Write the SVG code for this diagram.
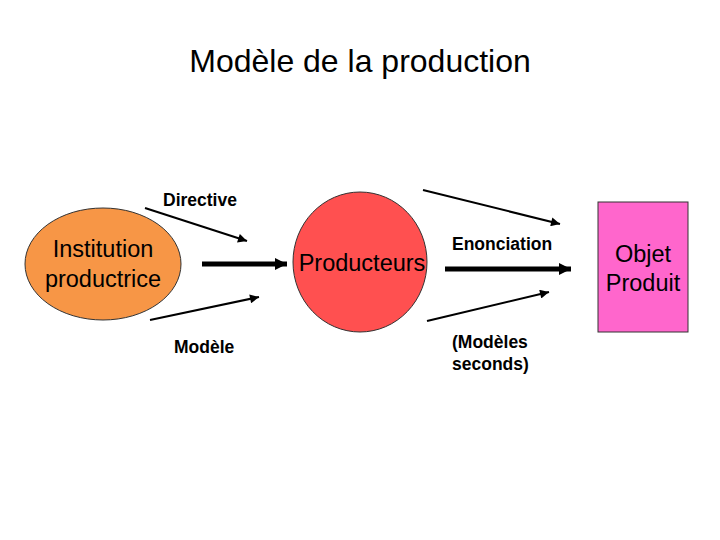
<svg xmlns="http://www.w3.org/2000/svg" width="720" height="540" viewBox="0 0 720 540">
<defs>
<style>
.t{font-family:"Liberation Sans",Arial,sans-serif;fill:#000}
.b{font-weight:bold;font-size:17.5px}
.n{font-size:23.5px}
.thin{stroke:#000;stroke-width:2;fill:none}
.thick{stroke:#000;stroke-width:5;fill:none}
</style>
<marker id="ah2" viewBox="0 0 10 10" refX="10" refY="5" markerWidth="14" markerHeight="12" markerUnits="userSpaceOnUse" orient="auto"><path d="M0,0L10,5L0,10z" fill="#000"/></marker>
<marker id="ahs" viewBox="0 0 10 10" refX="10" refY="5" markerWidth="12" markerHeight="9" markerUnits="userSpaceOnUse" orient="auto"><path d="M0,0L10,5L0,10z" fill="#000"/></marker>
</defs>
<rect width="720" height="540" fill="#fff"/>
<text class="t" x="360" y="72" font-size="32" text-anchor="middle">Modèle de la production</text>
<g id="institution">
<ellipse cx="103" cy="264" rx="78" ry="56" fill="#F79646" stroke="#333" stroke-width="1"/>
<text class="t n" x="103" y="257" text-anchor="middle">Institution</text>
<text class="t n" x="103" y="287" text-anchor="middle">productrice</text>
</g>
<g id="producteurs">
<ellipse cx="360" cy="262" rx="67" ry="70" fill="#FF5050" stroke="#333" stroke-width="1"/>
<text class="t n" x="362" y="271" text-anchor="middle">Producteurs</text>
</g>
<g id="objet">
<rect x="598" y="202" width="90" height="130" fill="#FF66CC" stroke="#333" stroke-width="1"/>
<text class="t n" x="643" y="262" text-anchor="middle">Objet</text>
<text class="t n" x="643" y="291" text-anchor="middle">Produit</text>
</g>
<g id="connectors">
<line class="thin" x1="145" y1="208" x2="247" y2="241" marker-end="url(#ahs)"/>
<line class="thick" x1="202" y1="264" x2="287" y2="264" marker-end="url(#ah2)"/>
<line class="thin" x1="150" y1="320" x2="259" y2="297" marker-end="url(#ahs)"/>
<line class="thin" x1="423" y1="190" x2="560" y2="224" marker-end="url(#ahs)"/>
<line class="thick" x1="445" y1="269" x2="571" y2="269" marker-end="url(#ah2)"/>
<line class="thin" x1="427" y1="321" x2="549" y2="292" marker-end="url(#ahs)"/>
</g>
<text class="t b" x="163" y="206">Directive</text>
<text class="t b" x="174" y="353">Modèle</text>
<text class="t b" x="452" y="250">Enonciation</text>
<text class="t b" x="452" y="348">(Modèles</text>
<text class="t b" x="452" y="370">seconds)</text>
</svg>
